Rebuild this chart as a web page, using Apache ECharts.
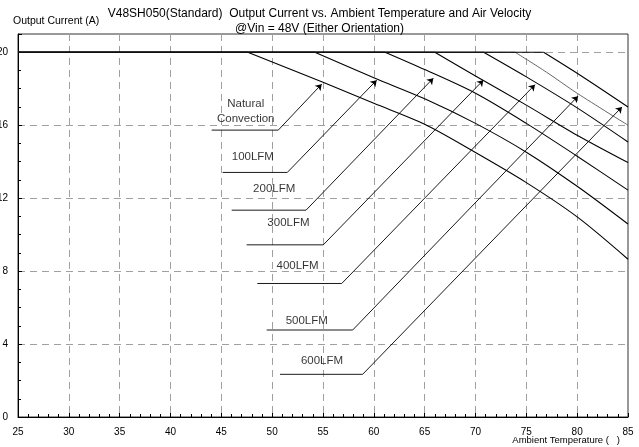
<!DOCTYPE html>
<html>
<head>
<meta charset="utf-8">
<script src="https://cdn.jsdelivr.net/npm/echarts@6/dist/echarts.min.js"></script>
<style>html,body{margin:0;padding:0;background:#fff}#c{width:639px;height:447px}</style>
</head>
<body>
<div id="c"></div>
<script>
// ---- data ----
const seriesNames = ['Natural Convection', '100LFM', '200LFM', '300LFM', '400LFM', '500LFM', '600LFM'];
const ratedCurrent = 20;
// derating part of each curve (from the temperature where derating starts)
const natT = [47.6, 55, 60, 65, 70, 75, 80, 85];
const natI = [20, 18.35, 17.2, 16.05, 14.5, 12.85, 10.97, 8.65];
const lfm100T = [54.2, 60, 65, 70, 75, 80, 85];
const lfm100I = [20, 18.6, 17.45, 16.1, 14.52, 12.65, 10.58];
const lfm200T = [61.1, 65, 70, 75, 80, 85];
const lfm200I = [20, 19.05, 17.75, 16.1, 14.3, 12.44];
const lfm300T = [66, 70, 75, 80, 85];
const lfm300I = [20, 18.7, 17.1, 15.45, 13.95];
const lfm400T = [70.8, 75, 80, 85];
const lfm400I = [20, 18.65, 16.95, 15.08];
const lfm500T = [73.9, 77, 80, 85];
const lfm500I = [20, 18.9, 17.75, 16.0];
const lfm600T = [76.7, 80.3, 85];
const lfm600I = [20, 18.74, 17.0];

const xTicks = [25, 30, 35, 40, 45, 50, 55, 60, 65, 70, 75, 80, 85];
const yTicks = [0, 4, 8, 12, 16, 20];

// annotation callouts (in data units)
const annoLabels = ['Natural\nConvection', '100LFM', '200LFM', '300LFM', '400LFM', '500LFM', '600LFM'];
const annoTextT = [47.4, 48.1, 50.2, 51.6, 52.5, 53.4, 54.9];
const annoTextI = [16.74, 14.25, 12.49, 10.63, 8.27, 5.26, 3.07];
const annoLeaderI = [15.73, 13.41, 11.34, 9.44, 7.32, 4.77, 2.34];
const annoLeaderT0 = [44.05, 45.13, 46.02, 47.49, 48.54, 49.46, 50.77];
const annoLeaderT1 = [50.6, 51.49, 53.33, 55.03, 56.84, 57.92, 58.9];
const annoTipT = [54.87, 60.28, 65.85, 70.77, 75.85, 80.08, 84.41];
const annoTipI = [18.25, 18.47, 18.58, 18.47, 18.22, 17.59, 17.0];

// ---- build ----
const FONT = '"Liberation Sans", Arial, sans-serif';
const curveT = [natT, lfm100T, lfm200T, lfm300T, lfm400T, lfm500T, lfm600T];
const curveI = [natI, lfm100I, lfm200I, lfm300I, lfm400I, lfm500I, lfm600I];
const pts = (T, I) => T.map((t, i) => [t, I[i]]);

const series = [];
curveT.forEach((T, k) => {
  const ls = { color: k === 5 ? '#555' : '#000', width: k === 5 ? 0.9 : 1.1 };
  series.push({
    name: seriesNames[k], type: 'line', symbol: 'none', silent: true,
    data: [[xTicks[0], ratedCurrent], [T[0], curveI[k][0]]],
    lineStyle: ls, z: 3
  });
  series.push({
    name: seriesNames[k], type: 'line', symbol: 'none', silent: true,
    smooth: 0.3,
    data: pts(T, curveI[k]),
    lineStyle: ls, z: 3
  });
});
annoLabels.forEach((lab, k) => {
  series.push({
    type: 'line', symbol: 'none', silent: true,
    data: [[annoLeaderT0[k], annoLeaderI[k]], [annoLeaderT1[k], annoLeaderI[k]]],
    lineStyle: { color: '#000', width: 0.9 },
    markLine: {
      silent: true, animation: false,
      symbol: ['none', 'arrow'], symbolSize: 6,
      label: { show: false },
      lineStyle: { color: '#000', width: 0.9, type: 'solid' },
      data: [[{ coord: [annoLeaderT1[k], annoLeaderI[k]] }, { coord: [annoTipT[k], annoTipI[k]] }]]
    },
    z: 4
  });
});
series.push({
  type: 'scatter', silent: true, symbolSize: 1,
  itemStyle: { color: 'transparent' },
  data: annoLabels.map((lab, k) => ({ name: lab, value: [annoTextT[k], annoTextI[k]] })),
  label: { show: true, position: 'inside', formatter: '{b}', color: '#000', fontSize: 11.5, lineHeight: 15, fontFamily: FONT },
  z: 5
});

const chart = echarts.init(document.getElementById('c'), null, { renderer: 'canvas' });
chart.setOption({
  animation: false,
  backgroundColor: '#fff',
  grid: { left: 18, right: 11, top: 34, bottom: 30, outerBoundsMode: 'none', containLabel: false,
    show: true, borderColor: '#333', borderWidth: 1, backgroundColor: 'transparent' },
  xAxis: {
    type: 'value', min: xTicks[0], max: xTicks[xTicks.length - 1], interval: 5,
    axisLine: { lineStyle: { color: '#000', width: 1 } },
    axisTick: { inside: true, length: 4, lineStyle: { color: '#000' } },
    minorTick: { show: true, splitNumber: 5, length: 3, lineStyle: { color: '#000' } },
    axisLabel: { color: '#000', fontSize: 10, margin: 10, fontFamily: FONT, hideOverlap: false },
    splitLine: { show: true, showMinLine: false, showMaxLine: false, lineStyle: { color: '#a0a0a0', type: [7, 5], width: 1 } }
  },
  yAxis: {
    type: 'value', min: yTicks[0], max: 21, interval: 4,
    axisLine: { show: true, lineStyle: { color: '#000', width: 1 } },
    axisTick: { show: true, inside: true, length: 4, lineStyle: { color: '#000' } },
    minorTick: { show: true, splitNumber: 4, length: 3, lineStyle: { color: '#000' } },
    axisLabel: { color: '#000', fontSize: 10, margin: 10, fontFamily: FONT,
      formatter: v => (yTicks.indexOf(v) >= 0 ? String(v) : '') },
    splitLine: { show: true, showMinLine: false, showMaxLine: false, lineStyle: { color: '#a0a0a0', type: [7, 5], width: 1 } }
  },
  graphic: [
    { type: 'text', left: 'center', top: 8, style: { text: 'V48SH050(Standard)  Output Current vs. Ambient Temperature and Air Velocity', font: '12px ' + FONT, fill: '#000' } },
    { type: 'text', left: 235, top: 23, style: { text: '@Vin = 48V (Either Orientation)', font: '12px ' + FONT, fill: '#000' } },
    { type: 'text', left: 13, top: 16, style: { text: 'Output Current (A)', font: '10.5px ' + FONT, fill: '#000' } },
    { type: 'text', right: 19, top: 435, style: { text: 'Ambient Temperature (   )', font: '9.5px ' + FONT, fill: '#000' } }
  ],
  series: series
});
</script>
</body>
</html>
